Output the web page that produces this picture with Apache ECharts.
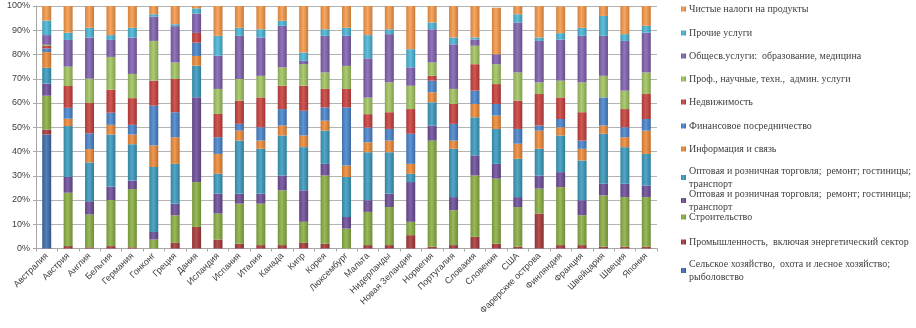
<!DOCTYPE html>
<html>
<head>
<meta charset="utf-8">
<script src="https://cdn.jsdelivr.net/npm/echarts@6/dist/echarts.min.js"></script>
<style>
  html, body { margin: 0; padding: 0; background: #fff; }
  #chart { width: 916px; height: 328px; }
</style>
</head>
<body>
<div id="chart"></div>
<script>
const countries = ['Австралия', 'Австрия', 'Англия', 'Бельгия', 'Германия', 'Гонконг', 'Греция', 'Дания', 'Исландия', 'Испания',
  'Италия', 'Канада', 'Кипр', 'Корея', 'Люксембург', 'Мальта', 'Нидерланды', 'Новая Зеландия', 'Норвегия', 'Португалия',
  'Словакия', 'Словения', 'США', 'Фарерские острова', 'Финляндия', 'Франция', 'Швейцария', 'Швеция', 'Япония']

const yTicks = [0, 10, 20, 30, 40, 50, 60, 70, 80, 90, 100]

// shares, % — one array per sector, in country order
const agriculture = [47, 0, 0, 0, 0, 0, 0, 0, 0, 0, 0, 0, 0, 0, 0, 0, 0, 0, 0, 0, 0, 0, 0, 0, 0, 0, 0, 0, 0]
const industry = [2, 1, 0.5, 1, 0.5, 0, 2.3, 8.9, 3.7, 2, 1.4, 1.4, 2.3, 2, 0, 1.4, 1.4, 5.5, 0.7, 1.4, 4.8, 2, 0.7, 14.4, 1.4, 1.4, 0.7, 0.7, 0.7]
const construction = [14, 22, 13.5, 19, 24, 3.7, 11.4, 18.5, 10.7, 16.5, 17.1, 22.6, 8.7, 28.1, 8.2, 13.7, 15.7, 5.5, 43.8, 14.4, 25.3, 26.8, 16.4, 10.3, 23.9, 12.3, 21.2, 20.5, 20.5]
const trade1 = [5, 6.5, 5.5, 5.5, 3.5, 3.1, 4.8, 35, 8.2, 4.1, 4.1, 6.1, 13, 4.8, 4.8, 4.8, 5.5, 16.4, 6.2, 5.4, 8.3, 6.1, 4.1, 5.4, 6.2, 6.2, 4.8, 5.5, 4.8]
const trade2 = [6.5, 21, 16, 21.5, 15, 26.8, 16.4, 13, 8.2, 21.9, 18.5, 16.5, 17.8, 13.7, 16.5, 19.8, 17.1, 3.4, 9.6, 19.9, 15.7, 14.4, 15.8, 11, 15.1, 16.4, 20.6, 15.1, 13]
const infoComm = [6.5, 3, 5.5, 4, 4, 8.9, 11, 4, 8.2, 4.1, 3.4, 4.1, 4.8, 4.1, 4.7, 4.1, 4.8, 4.1, 4.1, 3.4, 5.5, 5.5, 6.2, 7.5, 3.4, 4.8, 3.4, 4.1, 9.6]
const finance = [1.5, 4.5, 6.5, 5, 4, 16.4, 10.3, 5.5, 6.9, 2.8, 5.5, 6.8, 10.2, 5.5, 24, 6.1, 4.8, 12.4, 4.8, 6.9, 5.5, 4.8, 6.1, 2.1, 3.4, 3.4, 11.6, 4.1, 4.8]
const realEstate = [1, 9, 12.5, 9.5, 11, 10.3, 13.7, 4, 9.6, 9.6, 12.3, 9.6, 10.3, 7.6, 7.6, 5.5, 6.9, 10.2, 2, 8.2, 10.9, 8.2, 11.7, 13, 8.9, 11.7, 0, 7.5, 10.3]
const profServices = [0.5, 8, 10, 13.5, 10, 16.4, 6.8, 0, 10.3, 8.9, 8.9, 7.6, 8.9, 6.8, 9.5, 6.8, 12.3, 9.6, 5.5, 6.2, 7.6, 8.2, 11.6, 4.8, 6.9, 12.3, 8.9, 7.6, 8.9]
const publicServices = [4, 11, 17, 7, 15, 10, 15, 8, 13.7, 17.8, 15.8, 17.1, 1.4, 15.1, 12.4, 16.2, 19.9, 7.6, 13.7, 18.4, 2.6, 4.1, 20.6, 17.1, 16.9, 19.2, 16.5, 20.5, 16.4]
const otherServices = [6, 3, 4, 2, 4, 1, 0.8, 2.1, 8.2, 3.3, 3.4, 2.1, 3.4, 2.7, 3.3, 9.6, 2, 7.5, 2.8, 2.8, 0.8, 0, 3.4, 1.4, 2.7, 3.3, 8.2, 2.8, 2.8]
const netTaxes = [6, 11, 9, 12, 9, 3.4, 7.5, 1, 12.3, 9, 9.6, 6.2, 19.2, 9.6, 9, 12.3, 9.6, 17.8, 6.8, 13, 13, 19.2, 3.4, 13, 11, 9.6, 4.1, 11.6, 8.2]

const sectorNames = [
  'Сельское хозяйство,  охота и лесное хозяйство;\nрыболовство',
  'Промышленность,  включая энергетический сектор',
  'Строительство',
  'Оптовая и розничная торговля;  ремонт; гостиницы;\nтранспорт',
  'Оптовая и розничная торговля;  ремонт; гостиницы;\nтранспорт ',
  'Информация и связь',
  'Финансовое посредничество',
  'Недвижимость',
  'Проф., научные, техн.,  админ. услуги',
  'Общесв.услуги:  образование, медицина',
  'Прочие услуги',
  'Чистые налоги на продукты'
]
const sectorData = [agriculture, industry, construction, trade1, trade2, infoComm, finance, realEstate, profServices, publicServices, otherServices, netTaxes]

const colors = ['#3f6db0', '#a83a3b', '#8bb045', '#6f4f9a', '#3b9bbe', '#ee8b3a',
  '#4a85cc', '#c9413e', '#a2c562', '#8262b0', '#4bb6d6', '#f79a4a']

// legend first-line y, top entry first (reverse series order)
const legendY = [9, 33, 56, 79, 102, 126, 149, 171, 194, 217, 242, 264]

function shade (hex, k) {
  const n = parseInt(hex.slice(1), 16)
  let r = n >> 16, g = (n >> 8) & 255, b = n & 255
  const f = v => Math.round(k >= 0 ? v + (255 - v) * k : v * (1 + k))
  return `rgb(${f(r)},${f(g)},${f(b)})`
}

// cylinder-like shading across the bar
const cylinder = c => new echarts.graphic.LinearGradient(0, 0, 1, 0, [
  { offset: 0, color: shade(c, -0.15) },
  { offset: 0.45, color: shade(c, 0.12) },
  { offset: 1, color: shade(c, -0.2) }
])

const chart = echarts.init(document.getElementById('chart'), null, { renderer: 'canvas' })

const legends = sectorNames.slice().reverse().map((name, i) => ({
  data: [name],
  left: 681,
  top: legendY[i] - 6.5,
  orient: 'vertical',
  icon: 'rect',
  itemWidth: 5,
  itemHeight: 5,
  itemGap: 0,
  padding: 0,
  selectedMode: false,
  textStyle: {
    fontFamily: 'Liberation Serif',
    fontSize: 10,
    color: '#404040',
    lineHeight: 13,
    padding: [0, 0, 0, -2]
  }
}))

chart.setOption({
  animation: false,
  color: colors,
  grid: { left: 36, right: 259, top: 6, bottom: 79.5, containLabel: false },
  legend: legends,
  xAxis: {
    type: 'category',
    data: countries,
    axisLine: { lineStyle: { color: '#a6a6a6' } },
    axisTick: { show: true, length: 3, lineStyle: { color: '#a6a6a6' } },
    axisLabel: {
      rotate: 45,
      interval: 0,
      margin: 6,
      fontFamily: 'Liberation Sans',
      fontSize: 9,
      color: '#404040'
    }
  },
  yAxis: {
    type: 'value',
    min: 0,
    max: 100,
    interval: 10,
    axisLine: { show: true, lineStyle: { color: '#a6a6a6' } },
    axisTick: { show: true, length: 3, lineStyle: { color: '#a6a6a6' } },
    splitLine: { lineStyle: { color: '#b3b3b3', width: 1 } },
    axisLabel: {
      formatter: v => yTicks.includes(v) ? v + '%' : '',
      margin: 6,
      fontFamily: 'Liberation Sans',
      fontSize: 9,
      color: '#404040'
    }
  },
  series: sectorData.map((d, i) => ({
    name: sectorNames[i],
    type: 'bar',
    stack: 'total',
    barWidth: 9,
    data: d,
    itemStyle: { color: cylinder(colors[i]) }
  }))
})
</script>
</body>
</html>
